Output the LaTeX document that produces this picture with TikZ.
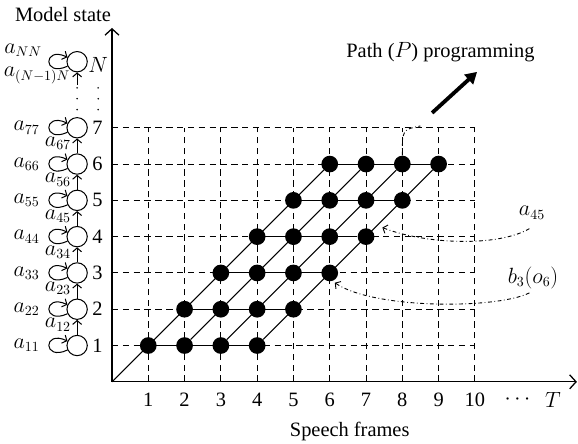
\documentclass[tikz,border=0pt]{standalone}
\usepackage{fontspec}
\setmainfont{Liberation Serif}
\usetikzlibrary{positioning,arrows.meta}

\tikzset{
  gridline/.style={line width=0.7pt, dash pattern=on 5pt off 3.5pt},
  axis/.style={line width=1pt, -{Straight Barb[length=5pt,width=11pt]}},
  link/.style={line width=0.8pt},
  dot/.style={circle, fill=black, inner sep=0pt, minimum size=0.46cm},
  state/.style={circle, draw, inner sep=0pt, minimum size=0.56cm, line width=0.8pt},
  vdots/.style={line width=1.4pt, dash pattern=on 0pt off 0.3cm, line cap=round},
  note/.style={line width=0.7pt, dash pattern=on 3pt off 2pt on 0.6pt off 2pt,
    -{Straight Barb[length=3pt,width=7pt]}},
  bigarrow/.style={line width=3pt, -{Triangle[length=9pt,width=10pt]}},
  >={Straight Barb[length=3pt,width=7pt]}
}

\begin{document}
\begin{tikzpicture}[font=\fontsize{16}{19}\selectfont]
        \useasboundingbox (-3.085,-1.71) rectangle (12.84,10.52);

        % grid
        \foreach \r in {1,...,7}
          \draw[gridline] (0,\r) -- (10,\r);
        \foreach \c in {1,...,10}
          \draw[gridline] (\c,0) -- (\c,7);

        % axes
        \coordinate (o) at (0,0);
        \coordinate (ytip) at (0,9.75);
        \coordinate (xtip) at (12.81,0);
        \draw[axis] (o) -- (ytip);
        \draw[axis] (o) -- (xtip);

        % trellis points
        \foreach \r in {1,...,6} {
          \foreach \k in {0,...,3} {
            \pgfmathtruncatemacro\c{\r+\k}
            \node[dot] (d-\c-\r) at (\c,\r) {};
          }
        }
        \foreach \r in {1,...,6} {
          \pgfmathtruncatemacro\e{\r+3}
          \draw[link] (d-\r-\r) -- (d-\e-\r);
        }
        \draw[link] (o) -- (d-6-6);
        \draw[link] (d-2-1) -- (d-7-6);
        \draw[link] (d-3-1) -- (d-8-6);
        \draw[link] (d-4-1) -- (d-9-6);

        % model states
        \foreach \i in {1,...,7}
          \node[state] (s\i) at (-0.96,\i) {};
        \node[state] (sN) at (-0.96,8.82) {};
        \foreach \s in {1,...,7,N}
          \draw[link,->] (s\s.205) .. controls +(205:0.75) and +(155:0.75) .. (s\s.155);
        \foreach \i/\j in {1/2,2/3,3/4,4/5,5/6,6/7}
          \draw[link,->] (s\i) -- (s\j);
        \coordinate (sdots) at (-0.96,8.18);
        \draw[link,->] (sdots) -- (sN);
        \draw[vdots] (-0.96,7.5) -- (-0.96,8.1);
        \draw[vdots] (-0.38,7.5) -- (-0.38,8.1);

        \foreach \i in {1,...,7} {
          \node (n\i) [right=0pt of s\i] {\i};
          \node (l\i) [left=0.62cm of s\i] {$a_{\i\i}$};
        }
        \foreach \i/\j in {1/2,2/3,3/4,4/5,5/6,6/7}
          \node (t\i\j) at (-1.49,\i+0.57) {$a_{\i\j}$};
        \node[inner sep=1pt] (lN) at (-2.45,9.14) {$a_{NN}$};
        \node[inner sep=1pt] (tNN) at (-2.07,8.44) {$a_{(N-1)N}$};
        \node (nN) at (-0.38,8.73) {$N$};
        \node (mstate) at (-1.35,10.11) {Model state};

        % frame axis labels
        \foreach \c in {1,...,10}
          \node (f\c) at (\c,-0.5) {\c};
        \node (fdots) at (11.17,-0.5) {$\cdots$};
        \node (fT) at (12.15,-0.5) {$T$};
        \node (frames) at (6.55,-1.38) {Speech frames};

        % notes
        \node (la45) at (11.57,4.66) {$a_{45}$};
        \node (lb36) at (11.6,2.87) {$b_3(o_6)$};
        \coordinate (tipA) at (7.45,4.25);
        \coordinate (tipB) at (6.14,2.73);
        \draw[note] (11.5,4.22) .. controls (10.6,3.7) and (8.6,3.8) .. (tipA);
        \draw[note] (11.5,2.45) .. controls (10.6,2.0) and (7.2,2.0) .. (tipB);

        \node (path) at (9.05,9.09) {Path ($P$) programming};
        \coordinate (pstart) at (8.82,7.41);
        \coordinate (pend) at (10.06,8.54);
        \draw[bigarrow] (pstart) -- (pend);
        \draw[line width=0.7pt, dash pattern=on 3pt off 2pt on 0.6pt off 2pt]
          (d-8-6) .. controls (8,6.95) .. (8.5,7.05);
      \end{tikzpicture}
\end{document}
